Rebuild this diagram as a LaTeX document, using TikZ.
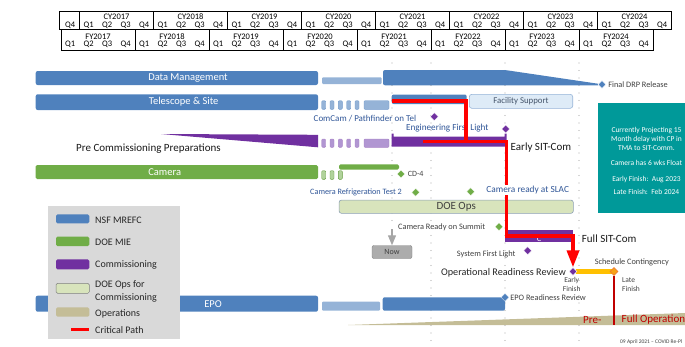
\documentclass[tikz,border=0pt]{standalone}
\usepackage{fontspec}
\setmainfont{Carlito}
\usetikzlibrary{positioning,arrows.meta,shapes.geometric}

\definecolor{nsfblue}{RGB}{79,129,189}
\definecolor{nsflight}{RGB}{149,179,215}
\definecolor{doegreen}{RGB}{112,173,71}
\definecolor{commpurple}{RGB}{112,48,160}
\definecolor{commlight}{RGB}{177,150,210}
\definecolor{opsgreen}{RGB}{216,228,188}
\definecolor{opstan}{RGB}{196,189,151}
\definecolor{contyellow}{RGB}{255,192,0}
\definecolor{contorange}{RGB}{237,125,49}
\definecolor{tealbox}{RGB}{0,153,153}
\definecolor{opsred}{RGB}{192,0,0}
\definecolor{txtblue}{RGB}{47,85,151}
\definecolor{txtdark}{RGB}{64,64,64}
\definecolor{legbg}{RGB}{217,217,217}

\tikzset{
  hdrbox/.style={draw=black, line width=0.8pt},
  hdrtxt/.style={font=\fontsize{8.5}{10}\selectfont, inner sep=0pt},
  dotline/.style={draw=gray!65, line width=1.1pt, dash pattern=on 0pt off 7.5pt, line cap=round},
  nsfbar/.style={fill=nsfblue, rounded corners=2pt},
  nsflightbar/.style={fill=nsflight, rounded corners=1pt},
  doebar/.style={fill=doegreen, rounded corners=1.5pt},
  commbar/.style={fill=commpurple},
  nsfpill/.style={fill=nsflight, draw=nsfblue!80, line width=0.4pt, rounded corners=1pt},
  commpill/.style={fill=commlight, draw=commpurple!60, line width=0.4pt, rounded corners=1pt},
  doepill/.style={fill=doegreen!55, draw=doegreen!90!black, line width=0.4pt, rounded corners=1pt},
  milestone/.style={diamond, minimum size=8pt, inner sep=0pt, draw=white, line width=0.3pt},
  bartxt/.style={font=\fontsize{10.5}{12}\selectfont, text=white, inner sep=0pt},
  smalltxt/.style={font=\fontsize{8.3}{10}\selectfont, text=txtdark, inner sep=0pt},
  lbltxt/.style={font=\fontsize{9}{11}\selectfont, text=txtblue, inner sep=0pt},
  bigtxt/.style={font=\fontsize{11}{13}\selectfont, text=black!90, inner sep=0pt},
  medtxt/.style={font=\fontsize{10.2}{12}\selectfont, text=black!85, inner sep=0pt},
  tinytxt/.style={font=\fontsize{7.5}{9}\selectfont, text=txtdark, inner sep=0pt},
  legtxt/.style={font=\fontsize{10}{12.7}\selectfont, text=black!85, inner sep=0pt, anchor=west, align=left},
  legsw/.style={rounded corners=1.5pt, draw=none},
  notetxt/.style={font=\fontsize{7.5}{9}\selectfont, text=white, inner sep=0pt},
  optxt/.style={font=\fontsize{11}{13}\selectfont, text=opsred, inner sep=0pt, anchor=west},
  crit/.style={draw=red, line width=3.5pt},
  oprule/.style={draw=opsred, line width=2pt},
  nowarrow/.style={draw=gray!70, line width=1.2pt, -{Triangle[width=8pt,length=10pt]}},
  nowbox/.style={fill=gray!65, draw=gray, rounded corners=2pt, minimum width=40pt,
    minimum height=13pt, inner sep=0pt, font=\fontsize{8}{10}\selectfont, text=txtdark},
  opsbar/.style={fill=opsgreen, draw={rgb,255:red,140;green,160;blue,180}, line width=0.6pt,
    rounded corners=2.5pt, minimum width=234.3pt, minimum height=13.3pt, inner sep=0pt,
    font=\fontsize{11}{13}\selectfont, text=txtdark},
  facbox/.style={fill={rgb,255:red,222;green,235;blue,247}, draw=nsflight, line width=0.6pt,
    rounded corners=2.5pt, minimum width=103.4pt, minimum height=14pt, inner sep=0pt,
    font=\fontsize{8.8}{10}\selectfont, text={rgb,255:red,68;green,84;blue,106}}
}

\begin{document}
\begin{tikzpicture}[x=1pt,y=-1pt]
\useasboundingbox (0,0) rectangle (685,346);
\clip (0,0) rectangle (685,346);

% calendar and fiscal years
\draw[hdrbox] (59.5,11.7) rectangle (79.5,29.3);
\node[hdrtxt] (cyq20164) at (70.25,25) {Q4};
\foreach \yr [count=\i from 0] in {2017,...,2024}{
  \draw[hdrbox] (79.5+74*\i,11.7) rectangle ++(74,17.6);
  \node[hdrtxt] (cy\yr) at (116.5+74*\i,16.3) {CY\yr};
  \draw[hdrbox] (61+74*\i,29.3) rectangle ++(74,20.7);
  \node[hdrtxt] (fy\yr) at (98+74*\i,36.3) {FY\yr};
  \foreach \qq in {1,...,4}{
    \node[hdrtxt] (cyq\yr\qq) at (70.25+74*\i+18.5*\qq,25) {Q\qq};
    \node[hdrtxt] (fyq\yr\qq) at (51.75+74*\i+18.5*\qq,44.5) {Q\qq};
  }
}

% year lines
\foreach \xx in {431,505,579}
  \draw[dotline] (\xx,63) -- (\xx,346);
\draw[dotline] (392,63) -- (392,228);

% data management
\fill[nsfbar] (35.7,71) rectangle (318,85);
\node[bartxt] (dm) at (188,78) {Data Management};
\fill[nsflightbar] (322,77.3) rectangle (381.7,84);
\fill[nsfbar] (383,70) -- (505,70) -- (600,84) -- (600,85.3) -- (383,85.3) -- cycle;
\node[milestone, fill=nsfblue] (drp) at (602,84.5) {};
\node[smalltxt, right=2pt of drp] (drptxt) {Final DRP Release};

% telescope and site
\fill[nsfbar] (35.7,94.3) rectangle (318,110);
\node[bartxt] (ts) at (183.7,102) {Telescope \& Site};
\foreach \xx in {321.7,330,338.3,346.7,355}
  \filldraw[nsfpill] (\xx,100.7) rectangle ++(4,8.6);
\filldraw[nsfpill] (364,100.7) rectangle (389,109.3);
\fill[nsfbar] (391.7,94.5) rectangle (466.7,104);
\node[facbox] (fac) at (521,101.3) {Facility Support};
\node[lbltxt, anchor=west] (comcam) at (313.5,118.5) {ComCam / Pathfinder on Tel};
\node[milestone, fill=commpurple] (comcamms) at (434.3,116.7) {};

% commissioning
\fill[commbar] (161,134) -- (318,134.8) -- (318,147.3) -- cycle;
\node[bigtxt, anchor=west] (precomm) at (76,149) {Pre Commissioning Preparations};
\foreach \xx in {321.7,330,338.3,346.7,355}
  \filldraw[commpill] (\xx,139) rectangle ++(4,8.3);
\filldraw[commpill] (364,139) rectangle (389,147.3);
\fill[commbar] (391.7,133.5) -- (393.7,133.5) -- (393.7,136.5) -- (504.7,136.5) -- (504.7,133.5)
  -- (506.7,133.5) -- (506.7,146.5) -- (391.7,146.5) -- cycle;
\node[lbltxt, font=\fontsize{9.2}{11}\selectfont] (efl) at (447.3,128.5) {Engineering First Light};
\node[milestone, fill=commpurple] (eflms) at (505.7,129) {};
\node[bigtxt, anchor=west] (esc) at (510.5,147.3) {Early SIT-Com};

% camera
\fill[doebar] (35.7,165) rectangle (318,179);
\node[bartxt] (cam) at (164.7,172) {Camera};
\foreach \xx in {321.7,330,338.3}
  \filldraw[doepill] (\xx,170.7) rectangle ++(4,8.6);
\fill[doebar] (339,164.3) rectangle (399,169.5);
\node[milestone, fill=doegreen] (cd4) at (401,174) {};
\node[smalltxt, font=\fontsize{8}{10}\selectfont, right=2.5pt of cd4] (cd4txt) {CD-4};
\node[smalltxt, text=txtblue, font=\fontsize{8.2}{10}\selectfont, anchor=west] (crt) at (310,192.3) {Camera Refrigeration Test 2};
\node[milestone, fill=doegreen] (crtms) at (415.7,192.3) {};
\node[milestone, fill=doegreen] (slacms) at (470.7,191.7) {};

% doe ops
\node[opsbar] (doeops) at (456.2,206.7) {DOE Ops};
\node[smalltxt, anchor=west] (crs) at (398,227.7) {Camera Ready on Summit};
\node[milestone, fill=doegreen] (crsms) at (499,226.7) {};

% full sit-com
\fill[commbar] (505,230) rectangle (573,242);
\node[smalltxt, text=white] (fsc) at (539,238.5) {C};
\node[bigtxt, anchor=west] (fsctxt) at (581.7,239) {Full SIT-Com};
\node[smalltxt, anchor=west] (sfl) at (456.7,254) {System First Light};
\node[milestone, fill=commpurple] (sflms) at (527.7,250.7) {};

% now
\node[nowbox] (now) at (392,252) {Now};
\draw[nowarrow] (392,229) -- (now.north);

% readiness review and contingency
\fill[contyellow] (576,269.3) rectangle (612,274.3);
\node[milestone, fill=commpurple] (orr) at (573,271.5) {};
\node[medtxt, anchor=east] (orrtxt) at (566,272.3) {Operational Readiness Review};
\node[milestone, fill=contorange!45!contyellow, draw=contorange, line width=0.6pt] (late) at (614,271.5) {};
\node[smalltxt] (sc) at (631.8,262.7) {Schedule Contingency};
\node[tinytxt, align=center] (ef) at (571.7,284.5) {Early\\Finish};
\node[tinytxt, align=left, anchor=west] (lf) at (622,284.5) {Late\\Finish};

% epo
\fill[nsfbar] (35.7,295.7) rectangle (318,311.7);
\node[bartxt] (epo) at (213,304) {EPO};
\fill[nsflightbar] (322,301.7) rectangle (380,310.7);
\fill[nsfbar] (382.7,297.3) rectangle (505,310.7);
\node[milestone, fill=nsfblue] (epoms) at (505,297.3) {};
\node[smalltxt, right=1pt of epoms] (epotxt) {EPO Readiness Review};

% operations
\fill[opstan] (348,325) -- (685,313) -- (685,325) -- cycle;
\draw[oprule] (late.south) -- (614,325);
\node[optxt] (preops) at (583,320) {Pre-};
\node[optxt] (fullops) at (621.5,320) {Full Operation};

% critical path
\draw[crit] (391.7,101) -- (466,101) -- (466,141.7);
\draw[crit, -{Triangle[width=12pt,length=17pt]}] (423,141.7) -- (506.5,141.7) -- (506.5,236)
  -- (573,236) -- (orr.north);
\node[lbltxt, font=\fontsize{9.3}{11}\selectfont, fill=white, inner sep=1pt] (slac) at (527.7,190) {Camera ready at SLAC};

% legend
\fill[legbg] (48.3,206) rectangle (180,339.3);
\fill[legsw, fill=nsfblue] (56,214.3) rectangle (89.3,223.3);
\node[legtxt] (lnsf) at (95,220) {NSF MREFC};
\fill[legsw, fill=doegreen] (56,236.7) rectangle (89.3,246);
\node[legtxt] (ldoe) at (95,242.5) {DOE MIE};
\fill[legsw, fill=commpurple] (56,259.3) rectangle (89.3,269.3);
\node[legtxt] (lcomm) at (95,265) {Commissioning};
\filldraw[legsw, fill=opsgreen, draw=gray, line width=0.5pt] (56,283.3) rectangle (89.3,293.3);
\node[legtxt] (lops) at (95,291.3) {DOE Ops for\\Commissioning};
\fill[legsw, fill=opstan] (56,307.3) rectangle (89.3,316.7);
\node[legtxt] (loper) at (95,314) {Operations};
\coordinate (lcpa) at (71,329.3);
\coordinate (lcpb) at (89.3,329.3);
\draw[crit, line width=3pt] (lcpa) -- (lcpb);
\node[legtxt] (lcp) at (95,330) {Critical Path};

% note
\fill[tealbox] (598,103.3) rectangle (685,213.3);
\foreach \yy/\notetext [count=\k] in {130.3/Currently Projecting 15, 139/Month delay with CP in,
    147.7/TMA to SIT-Comm., 163.3/Camera has 6 wks Float, 179.3/Early Finish:\ \ Aug 2023,
    192.3/Late Finish:\ \ Feb 2024}
  \node[notetxt] (note\k) at (646.5,\yy) {\notetext};

\node[smalltxt, font=\fontsize{5.5}{7}\selectfont, anchor=west] (foot) at (620,341.7) {09 April 2021 – COVID Re-Pl};
\end{tikzpicture}
\end{document}
